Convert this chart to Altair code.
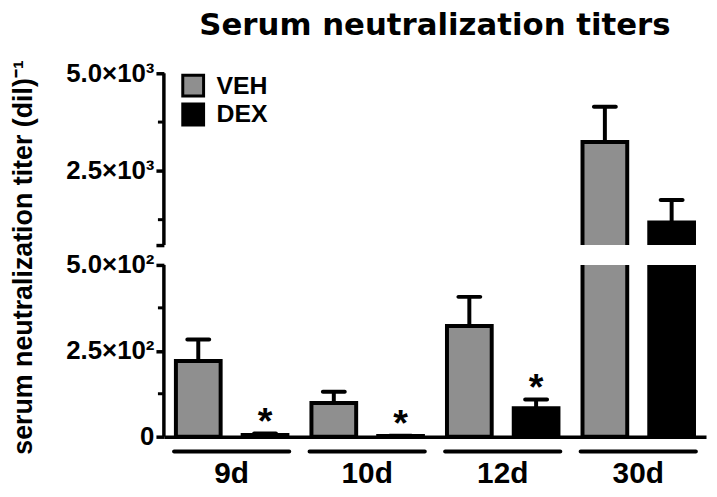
import altair as alt
import pandas as pd

# ---------------- data ----------------
days = ["9d", "10d", "12d", "30d"]
groups = ["VEH", "DEX"]
veh_mean = [220, 98, 322, 3240]
veh_err = [63, 33, 85, 900]
dex_mean = [5, 2, 83, 1180]
dex_err = [4, 1, 25, 573]
dex_signif = [True, True, True, False]

y_major = [0, 250, 500, 600, 2500, 5000]
y_labels = {0: "0", 250: "2.5×10²", 500: "5.0×10²", 2500: "2.5×10³", 5000: "5.0×10³"}
y_minor = [125, 375, 1250, 3750]
break_lo, break_hi, y_top = 500, 600, 5000

title_text = "Serum neutralization titers"
y_title = "serum neutralization titer (dil)⁻¹"
colors = ["#8f8f8f", "#000000"]

# ---------------- layout ----------------
W, H = 546, 366
Y_BREAK_LO = 193   # pixel of break_lo within plot
Y_BREAK_HI = 173   # pixel of break_hi within plot
FONT = "Liberation Sans"

rows = []
for i, d in enumerate(days):
    rows.append(dict(day=d, group="VEH", mean=veh_mean[i], upper=veh_mean[i] + veh_err[i], star=""))
    rows.append(dict(day=d, group="DEX", mean=dex_mean[i], upper=dex_mean[i] + dex_err[i],
                     star="*" if dex_signif[i] else ""))
df = pd.DataFrame(rows)

brk = pd.DataFrame({"lo": [break_lo], "hi": [break_hi]})
axis_segs = pd.DataFrame({"lo": [0, break_hi], "hi": [break_lo, y_top]})
minor = pd.DataFrame({"v": y_minor})
grp = pd.DataFrame({"day": days})

yscale = alt.Scale(domain=[0, break_lo, break_hi, y_top], range=[H, Y_BREAK_LO, Y_BREAK_HI, 0],
                   nice=False, zero=False)
xscale = alt.Scale(domain=days, paddingInner=0, paddingOuter=0)
xoff_scale = alt.Scale(domain=groups, paddingInner=0.33, paddingOuter=0.18)

label_expr = " : ".join(f"datum.value == {k} ? '{v}'" for k, v in y_labels.items()) + " : ''"

X = alt.X("day:N", scale=xscale, sort=days,
          axis=alt.Axis(title=None, ticks=False, domain=True, domainColor="black", domainWidth=3.5,
                        labelFont=FONT, labelFontSize=30, labelFontWeight="bold", labelColor="black",
                        labelAngle=0, labelPadding=22))
XO = alt.XOffset("group:N", scale=xoff_scale, sort=groups)

bars = alt.Chart(df).mark_bar(stroke="black", strokeWidth=4).encode(
    x=X, xOffset=XO,
    y=alt.Y("mean:Q", scale=yscale,
            axis=alt.Axis(values=y_major, labelExpr=label_expr, domain=False, grid=False,
                          tickSize=8, tickWidth=3.5, tickColor="black",
                          labelFont=FONT, labelFontSize=26, labelFontWeight="bold", labelColor="black",
                          labelPadding=2, labelOverlap=False, labelFlush=False,
                          title=y_title, titleFont=FONT, titleFontSize=27, titleFontWeight="bold",
                          titleColor="black", titleX=-141, titleY=H / 2 + 2, titleAngle=270,
                          titleAlign="center", titleBaseline="middle")),
    y2=alt.datum(0),
    color=alt.Color("group:N", scale=alt.Scale(domain=groups, range=colors), sort=groups,
                    legend=alt.Legend(orient="none", legendX=17, legendY=0, title=None,
                                      symbolType="square", symbolSize=440, symbolStrokeColor="black",
                                      symbolStrokeWidth=3, symbolOpacity=1,
                                      labelFont=FONT, labelFontSize=25, labelFontWeight="bold",
                                      labelColor="black", labelOffset=11, rowPadding=-4)),
)

whisker = alt.Chart(df).mark_rule(color="black", strokeWidth=4).encode(
    x=X, xOffset=XO, y=alt.Y("mean:Q", scale=yscale), y2="upper:Q")

caps = alt.Chart(df).mark_tick(color="black", thickness=4, size=26, cornerRadius=2, opacity=1).encode(
    x=X, xOffset=XO, y=alt.Y("upper:Q", scale=yscale))

stars = alt.Chart(df).mark_text(font=FONT, fontSize=38, fontWeight="bold", color="black",
                                baseline="middle", dy=-11).encode(
    x=X, xOffset=XO, y=alt.Y("upper:Q", scale=yscale), text="star:N")

gap = alt.Chart(brk).mark_rect(color="white", opacity=1).encode(
    x=alt.value(3), x2=alt.value(W + 5), y=alt.Y("lo:Q", scale=yscale), y2="hi:Q")

yaxis_line = alt.Chart(axis_segs).mark_rule(color="black", strokeWidth=3.5).encode(
    x=alt.value(0), y=alt.Y("lo:Q", scale=yscale), y2="hi:Q")

minor_ticks = alt.Chart(minor).mark_rule(color="black", strokeWidth=3).encode(
    x=alt.value(-6), x2=alt.value(0), y=alt.Y("v:Q", scale=yscale))

underline = alt.Chart(grp).mark_bar(color="black", width=120, cornerRadius=2).encode(
    x=X, y=alt.value(H + 13), y2=alt.value(H + 17))

chart = alt.layer(whisker, caps, bars, stars, gap, yaxis_line, minor_ticks, underline).properties(
    width=W, height=H,
    title=alt.Title(title_text, font="DejaVu Sans", fontSize=31, fontWeight="bold", color="black",
                    anchor="middle", frame="group", baseline="alphabetic", offset=12, dy=18),
    padding={"left": 157, "top": 64, "right": 3, "bottom": 59},
    autosize=alt.AutoSizeParams(type="none"),
).configure_view(stroke=None)

chart.save("out.html", embed_options={"renderer": "svg", "actions": False})
